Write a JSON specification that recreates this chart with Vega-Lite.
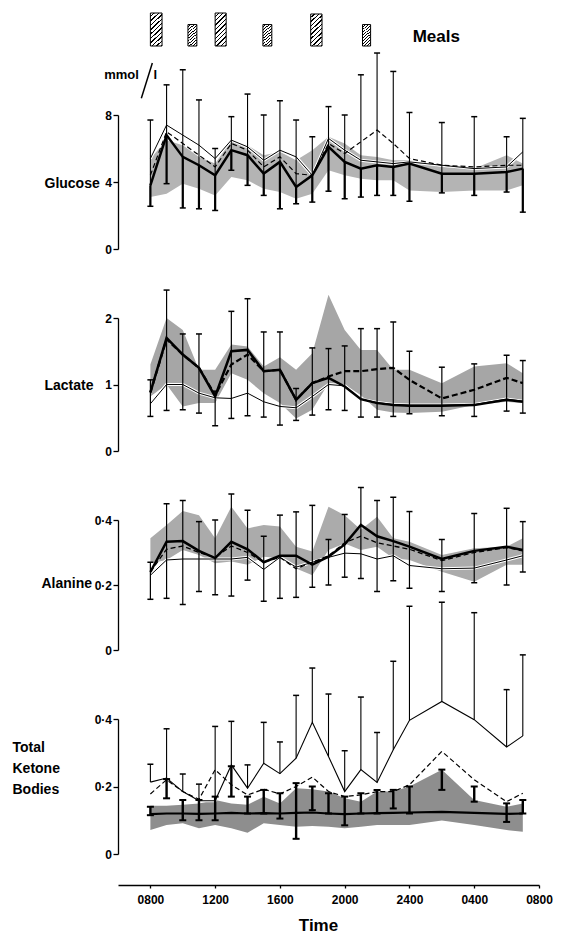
{
  "$schema": "https://vega.github.io/schema/vega-lite/v6.json",
  "padding": {"left": 12, "top": 12, "right": 5, "bottom": 5},
  "background": "white",
  "config": {
    "view": {"stroke": null},
    "axis": {"domainColor": "black", "domainWidth": 1.3, "tickColor": "black", "tickWidth": 1.3, "tickSize": 5, "grid": false,
      "labelFont": "Liberation Sans", "labelFontSize": 12, "labelFontWeight": "bold", "labelColor": "black",
      "titleFont": "Liberation Sans", "titleFontSize": 14, "titleFontWeight": "bold", "titleColor": "black"},
    "axisY": {"titleAngle": 0, "titleAlign": "left", "titleBaseline": "middle", "labelPadding": 1.5}
  },
  "datasets": {
    "meals": [
      {"t0": 8.0, "t1": 8.72, "h": 1.0},
      {"t0": 10.32, "t1": 10.87, "h": 0.65},
      {"t0": 12.0, "t1": 12.68, "h": 1.0},
      {"t0": 14.95, "t1": 15.5, "h": 0.65},
      {"t0": 17.9, "t1": 18.6, "h": 0.97},
      {"t0": 21.1, "t1": 21.6, "h": 0.65}
    ],
    "glucose": [
      {"t":8,"lo":3.1,"hi":5.4,"thin":5.4,"dash":4.4,"thick":3.8,"up":7.7,"dn":2.55},
      {"t":9,"lo":3.3,"hi":6.5,"thin":7.4,"dash":7.0,"thick":6.8,"up":9.8,"dn":3.9},
      {"t":10,"lo":3.9,"hi":6.2,"thin":6.8,"dash":6.3,"thick":5.5,"up":10.7,"dn":2.45},
      {"t":11,"lo":3.6,"hi":5.5,"thin":6.2,"dash":5.6,"thick":5.0,"up":8.9,"dn":2.4},
      {"t":12,"lo":3.2,"hi":5.1,"thin":5.4,"dash":4.9,"thick":4.4,"up":6.0,"dn":2.3},
      {"t":13,"lo":4.3,"hi":6.5,"thin":6.5,"dash":6.3,"thick":5.9,"up":7.9,"dn":4.7},
      {"t":14,"lo":4.1,"hi":6.2,"thin":6.1,"dash":5.9,"thick":5.6,"up":9.25,"dn":3.8},
      {"t":15,"lo":3.6,"hi":5.6,"thin":5.3,"dash":4.9,"thick":4.5,"up":8.0,"dn":3.2},
      {"t":16,"lo":3.4,"hi":5.8,"thin":5.9,"dash":5.5,"thick":5.2,"up":8.85,"dn":2.4},
      {"t":17,"lo":3.0,"hi":5.3,"thin":5.5,"dash":4.5,"thick":3.7,"up":7.7,"dn":2.7},
      {"t":18,"lo":3.3,"hi":5.9,"thin":4.4,"dash":4.4,"thick":4.4,"up":6.7,"dn":2.8},
      {"t":19,"lo":4.7,"hi":6.7,"thin":6.6,"dash":6.3,"thick":6.1,"up":8.5,"dn":3.45},
      {"t":20,"lo":4.4,"hi":6.3,"thin":5.9,"dash":5.7,"thick":5.2,"up":8.0,"dn":3.0},
      {"t":21,"lo":4.2,"hi":5.6,"thin":5.3,"dash":6.4,"thick":4.8,"up":10.4,"dn":3.1},
      {"t":22,"lo":4.1,"hi":5.5,"thin":5.2,"dash":7.1,"thick":5.0,"up":11.7,"dn":3.2},
      {"t":23,"lo":4.1,"hi":5.3,"thin":5.1,"dash":6.3,"thick":4.9,"up":10.6,"dn":3.2},
      {"t":24,"lo":3.5,"hi":5.3,"thin":5.2,"dash":5.4,"thick":5.1,"up":8.15,"dn":2.85},
      {"t":26,"lo":3.4,"hi":4.9,"thin":5.0,"dash":5.0,"thick":4.5,"up":7.55,"dn":3.35},
      {"t":28,"lo":3.5,"hi":4.8,"thin":4.8,"dash":4.9,"thick":4.5,"up":7.9,"dn":3.2},
      {"t":30,"lo":3.5,"hi":5.6,"thin":4.9,"dash":5.0,"thick":4.6,"up":6.7,"dn":3.4},
      {"t":31,"lo":3.8,"hi":5.1,"thin":5.8,"dash":5.0,"thick":4.8,"up":7.8,"dn":2.2}
    ],
    "lactate": [
      {"t":8,"lo":0.82,"hi":1.3,"thin":0.71,"dash":0.88,"thick":0.88,"up":1.07,"dn":0.52},
      {"t":9,"lo":1.0,"hi":2.0,"thin":1.0,"dash":1.68,"thick":1.7,"up":2.42,"dn":0.61},
      {"t":10,"lo":0.67,"hi":1.82,"thin":1.0,"dash":1.45,"thick":1.45,"up":1.76,"dn":0.62},
      {"t":11,"lo":0.72,"hi":1.22,"thin":0.87,"dash":1.25,"thick":1.25,"up":1.76,"dn":0.57},
      {"t":12,"lo":0.72,"hi":1.22,"thin":0.8,"dash":0.84,"thick":0.82,"up":0.9,"dn":0.38},
      {"t":13,"lo":1.17,"hi":1.6,"thin":0.79,"dash":1.3,"thick":1.5,"up":2.1,"dn":0.49},
      {"t":14,"lo":1.07,"hi":1.57,"thin":0.87,"dash":1.45,"thick":1.52,"up":2.29,"dn":0.53},
      {"t":15,"lo":0.87,"hi":1.27,"thin":0.74,"dash":1.2,"thick":1.2,"up":1.79,"dn":0.51},
      {"t":16,"lo":0.72,"hi":1.41,"thin":0.67,"dash":1.22,"thick":1.22,"up":1.79,"dn":0.39},
      {"t":17,"lo":0.49,"hi":1.22,"thin":0.65,"dash":0.77,"thick":0.77,"up":0.94,"dn":0.46},
      {"t":18,"lo":0.62,"hi":1.47,"thin":0.82,"dash":1.02,"thick":1.02,"up":1.55,"dn":0.54},
      {"t":19,"lo":1.02,"hi":2.35,"thin":1.0,"dash":1.12,"thick":1.1,"up":1.54,"dn":0.62},
      {"t":20,"lo":1.0,"hi":1.82,"thin":0.98,"dash":1.2,"thick":0.97,"up":1.58,"dn":0.61},
      {"t":21,"lo":0.84,"hi":1.52,"thin":0.78,"dash":1.2,"thick":0.78,"up":1.84,"dn":0.51},
      {"t":22,"lo":0.62,"hi":1.52,"thin":0.73,"dash":1.23,"thick":0.72,"up":1.84,"dn":0.51},
      {"t":23,"lo":0.58,"hi":1.22,"thin":0.7,"dash":1.25,"thick":0.69,"up":1.94,"dn":0.52},
      {"t":24,"lo":0.57,"hi":1.22,"thin":0.69,"dash":1.07,"thick":0.68,"up":1.5,"dn":0.56},
      {"t":26,"lo":0.59,"hi":1.02,"thin":0.69,"dash":0.79,"thick":0.68,"up":1.26,"dn":0.53},
      {"t":28,"lo":0.69,"hi":1.27,"thin":0.7,"dash":0.92,"thick":0.69,"up":1.31,"dn":0.52},
      {"t":30,"lo":0.74,"hi":1.32,"thin":0.78,"dash":1.1,"thick":0.77,"up":1.44,"dn":0.6},
      {"t":31,"lo":0.72,"hi":1.17,"thin":0.75,"dash":1.02,"thick":0.74,"up":1.36,"dn":0.57}
    ],
    "alanine": [
      {"t":8,"lo":0.267,"hi":0.344,"thin":0.23,"dash":0.24,"thick":0.24,"up":0.27,"dn":0.156},
      {"t":9,"lo":0.277,"hi":0.385,"thin":0.277,"dash":0.31,"thick":0.333,"up":0.45,"dn":0.159},
      {"t":10,"lo":0.308,"hi":0.428,"thin":0.28,"dash":0.32,"thick":0.335,"up":0.46,"dn":0.14},
      {"t":11,"lo":0.292,"hi":0.415,"thin":0.28,"dash":0.3,"thick":0.305,"up":0.395,"dn":0.18},
      {"t":12,"lo":0.267,"hi":0.344,"thin":0.28,"dash":0.285,"thick":0.283,"up":0.4,"dn":0.17},
      {"t":13,"lo":0.272,"hi":0.441,"thin":0.28,"dash":0.32,"thick":0.333,"up":0.48,"dn":0.166},
      {"t":14,"lo":0.262,"hi":0.374,"thin":0.285,"dash":0.3,"thick":0.31,"up":0.43,"dn":0.215},
      {"t":15,"lo":0.287,"hi":0.385,"thin":0.248,"dash":0.27,"thick":0.27,"up":0.35,"dn":0.15},
      {"t":16,"lo":0.282,"hi":0.38,"thin":0.285,"dash":0.285,"thick":0.29,"up":0.415,"dn":0.159},
      {"t":17,"lo":0.251,"hi":0.318,"thin":0.255,"dash":0.25,"thick":0.29,"up":0.425,"dn":0.162},
      {"t":18,"lo":0.23,"hi":0.303,"thin":0.27,"dash":0.27,"thick":0.263,"up":0.445,"dn":0.193},
      {"t":19,"lo":0.308,"hi":0.441,"thin":0.285,"dash":0.29,"thick":0.287,"up":0.34,"dn":0.2},
      {"t":20,"lo":0.328,"hi":0.415,"thin":0.298,"dash":0.33,"thick":0.325,"up":0.417,"dn":0.224},
      {"t":21,"lo":0.308,"hi":0.37,"thin":0.296,"dash":0.35,"thick":0.385,"up":0.5,"dn":0.22},
      {"t":22,"lo":0.318,"hi":0.41,"thin":0.28,"dash":0.33,"thick":0.35,"up":0.46,"dn":0.18},
      {"t":23,"lo":0.282,"hi":0.344,"thin":0.29,"dash":0.32,"thick":0.335,"up":0.47,"dn":0.213},
      {"t":24,"lo":0.277,"hi":0.333,"thin":0.26,"dash":0.31,"thick":0.318,"up":0.426,"dn":0.19},
      {"t":26,"lo":0.241,"hi":0.292,"thin":0.25,"dash":0.275,"thick":0.28,"up":0.34,"dn":0.18},
      {"t":28,"lo":0.21,"hi":0.313,"thin":0.252,"dash":0.3,"thick":0.305,"up":0.42,"dn":0.207},
      {"t":30,"lo":0.262,"hi":0.318,"thin":0.277,"dash":0.315,"thick":0.318,"up":0.436,"dn":0.2},
      {"t":31,"lo":0.262,"hi":0.344,"thin":0.29,"dash":0.305,"thick":0.308,"up":0.395,"dn":0.24}
    ],
    "ketones": [
      {"t":8,"lo":0.071,"hi":0.143,"thin":0.213,"dash":0.178,"thick":0.118,"up":0.266,"kLo":0.115,"kHi":0.14},
      {"t":9,"lo":0.086,"hi":0.143,"thin":0.225,"dash":0.22,"thick":0.12,"up":0.371,"kLo":0.165,"kHi":0.222},
      {"t":10,"lo":0.091,"hi":0.146,"thin":0.185,"dash":0.185,"thick":0.12,"up":0.237,"kLo":0.1,"kHi":0.16},
      {"t":11,"lo":0.076,"hi":0.15,"thin":0.158,"dash":0.162,"thick":0.119,"up":0.207,"kLo":0.1,"kHi":0.16},
      {"t":12,"lo":0.086,"hi":0.16,"thin":0.158,"dash":0.25,"thick":0.12,"up":0.378,"kLo":0.1,"kHi":0.17},
      {"t":13,"lo":0.076,"hi":0.15,"thin":0.264,"dash":0.205,"thick":0.122,"up":0.393,"kLo":0.17,"kHi":0.26},
      {"t":14,"lo":0.063,"hi":0.146,"thin":0.195,"dash":0.175,"thick":0.12,"up":0.264,"kLo":0.12,"kHi":0.17},
      {"t":15,"lo":0.091,"hi":0.17,"thin":0.269,"dash":0.192,"thick":0.121,"up":0.39,"kLo":0.12,"kHi":0.19},
      {"t":16,"lo":0.086,"hi":0.15,"thin":0.238,"dash":0.178,"thick":0.12,"up":0.332,"kLo":0.105,"kHi":0.18},
      {"t":17,"lo":0.081,"hi":0.195,"thin":0.284,"dash":0.2,"thick":0.122,"up":0.47,"kLo":0.045,"kHi":0.21},
      {"t":18,"lo":0.083,"hi":0.192,"thin":0.39,"dash":0.228,"thick":0.123,"up":0.551,"kLo":0.13,"kHi":0.2},
      {"t":19,"lo":0.081,"hi":0.185,"thin":0.289,"dash":0.185,"thick":0.12,"up":0.474,"kLo":0.12,"kHi":0.18},
      {"t":20,"lo":0.076,"hi":0.165,"thin":0.185,"dash":0.17,"thick":0.118,"up":0.306,"kLo":0.085,"kHi":0.17},
      {"t":21,"lo":0.081,"hi":0.155,"thin":0.25,"dash":0.175,"thick":0.12,"up":0.465,"kLo":0.12,"kHi":0.18},
      {"t":22,"lo":0.086,"hi":0.185,"thin":0.212,"dash":0.185,"thick":0.121,"up":0.36,"kLo":0.12,"kHi":0.19},
      {"t":23,"lo":0.086,"hi":0.185,"thin":0.309,"dash":0.185,"thick":0.122,"up":0.571,"kLo":0.135,"kHi":0.19},
      {"t":24,"lo":0.086,"hi":0.2,"thin":0.396,"dash":0.205,"thick":0.123,"up":0.734,"kLo":0.12,"kHi":0.2},
      {"t":26,"lo":0.099,"hi":0.25,"thin":0.452,"dash":0.304,"thick":0.125,"up":0.746,"kLo":0.19,"kHi":0.25},
      {"t":28,"lo":0.086,"hi":0.16,"thin":0.398,"dash":0.22,"thick":0.122,"up":0.715,"kLo":0.155,"kHi":0.2},
      {"t":30,"lo":0.071,"hi":0.14,"thin":0.317,"dash":0.155,"thick":0.119,"up":0.487,"kLo":0.095,"kHi":0.15},
      {"t":31,"lo":0.066,"hi":0.15,"thin":0.35,"dash":0.18,"thick":0.12,"up":0.59,"kLo":0.12,"kHi":0.16}
    ]
  },
  "vconcat": [
    {
      "width": 421, "height": 33,
      "layer": [
        {
          "data": {"name": "meals"},
          "mark": {"type": "rect", "stroke": "black", "strokeWidth": 1,
            "fill": {"gradient": "linear", "x1": 0, "y1": 0, "x2": 0.4, "y2": 1.2, "stops": [
              {"offset": 0, "color": "white"}, {"offset": 0.066, "color": "white"}, {"offset": 0.067, "color": "black"}, {"offset": 0.099, "color": "black"},
              {"offset": 0.1, "color": "white"}, {"offset": 0.166, "color": "white"}, {"offset": 0.167, "color": "black"}, {"offset": 0.199, "color": "black"},
              {"offset": 0.2, "color": "white"}, {"offset": 0.266, "color": "white"}, {"offset": 0.267, "color": "black"}, {"offset": 0.299, "color": "black"},
              {"offset": 0.3, "color": "white"}, {"offset": 0.366, "color": "white"}, {"offset": 0.367, "color": "black"}, {"offset": 0.399, "color": "black"},
              {"offset": 0.4, "color": "white"}, {"offset": 0.466, "color": "white"}, {"offset": 0.467, "color": "black"}, {"offset": 0.499, "color": "black"},
              {"offset": 0.5, "color": "white"}, {"offset": 0.566, "color": "white"}, {"offset": 0.567, "color": "black"}, {"offset": 0.599, "color": "black"},
              {"offset": 0.6, "color": "white"}, {"offset": 0.666, "color": "white"}, {"offset": 0.667, "color": "black"}, {"offset": 0.699, "color": "black"},
              {"offset": 0.7, "color": "white"}, {"offset": 0.766, "color": "white"}, {"offset": 0.767, "color": "black"}, {"offset": 0.799, "color": "black"},
              {"offset": 0.8, "color": "white"}, {"offset": 0.866, "color": "white"}, {"offset": 0.867, "color": "black"}, {"offset": 0.899, "color": "black"},
              {"offset": 0.9, "color": "white"}, {"offset": 0.966, "color": "white"}, {"offset": 0.967, "color": "black"}, {"offset": 1, "color": "black"}
            ]}},
          "encoding": {
            "x": {"field": "t0", "type": "quantitative", "scale": {"domain": [6, 32], "nice": false, "zero": false}, "axis": null},
            "x2": {"field": "t1"},
            "y": {"field": "h", "type": "quantitative", "scale": {"domain": [0, 1], "nice": false}, "axis": null},
            "y2": {"datum": 0}
          }
        },
        {
          "data": {"values": [{"label": "Meals", "t": 24.2, "v": 0.27}]},
          "mark": {"type": "text", "align": "left", "baseline": "middle", "font": "Liberation Sans", "fontSize": 17, "fontWeight": "bold", "color": "black"},
          "encoding": {
            "x": {"field": "t", "type": "quantitative", "scale": {"domain": [6, 32], "nice": false, "zero": false}, "axis": null},
            "y": {"field": "v", "type": "quantitative", "scale": {"domain": [0, 1], "nice": false}, "axis": null},
            "text": {"field": "label"}
          }
        }
      ]
    },
    {
      "width": 421, "height": 134,
      "data": {"name": "glucose"},
      "layer": [
        {"mark": {"type": "area", "color": "#b4b4b4"},
         "encoding": {
           "x": {"field": "t", "type": "quantitative", "scale": {"domain": [6, 32], "nice": false, "zero": false}, "axis": null},
           "y": {"field": "lo", "type": "quantitative", "scale": {"domain": [0, 8], "nice": false, "zero": false},
                 "axis": {"values": [0, 4, 8], "format": ".0f", "title": "Glucose", "titleX": -74, "titleY": 68}},
           "y2": {"field": "hi"}}},
        {"mark": {"type": "line", "color": "white", "strokeWidth": 3},
         "encoding": {"x": {"field": "t", "type": "quantitative", "scale": {"domain": [6, 32], "nice": false, "zero": false}, "axis": null},
           "y": {"field": "thin", "type": "quantitative", "scale": {"domain": [0, 8], "nice": false, "zero": false}}}},
        {"mark": {"type": "line", "color": "black", "strokeWidth": 1},
         "encoding": {"x": {"field": "t", "type": "quantitative", "scale": {"domain": [6, 32], "nice": false, "zero": false}, "axis": null},
           "y": {"field": "thin", "type": "quantitative", "scale": {"domain": [0, 8], "nice": false, "zero": false}}}},
        {"mark": {"type": "line", "color": "black", "strokeWidth": 1.2, "strokeDash": [5, 3]},
         "encoding": {"x": {"field": "t", "type": "quantitative", "scale": {"domain": [6, 32], "nice": false, "zero": false}, "axis": null},
           "y": {"field": "dash", "type": "quantitative", "scale": {"domain": [0, 8], "nice": false, "zero": false}}}},
        {"mark": {"type": "line", "color": "black", "strokeWidth": 2.5},
         "encoding": {"x": {"field": "t", "type": "quantitative", "scale": {"domain": [6, 32], "nice": false, "zero": false}, "axis": null},
           "y": {"field": "thick", "type": "quantitative", "scale": {"domain": [0, 8], "nice": false, "zero": false}}}},
        {"mark": {"type": "rule", "color": "black", "strokeWidth": 1.1},
         "encoding": {"x": {"field": "t", "type": "quantitative", "scale": {"domain": [6, 32], "nice": false, "zero": false}, "axis": null},
           "y": {"field": "dn", "type": "quantitative", "scale": {"domain": [0, 8], "nice": false, "zero": false}},
           "y2": {"field": "up"}}},
        {"mark": {"type": "rule", "color": "black", "strokeWidth": 2.2},
         "encoding": {"x": {"field": "t", "type": "quantitative", "scale": {"domain": [6, 32], "nice": false, "zero": false}, "axis": null},
           "y": {"field": "dn", "type": "quantitative", "scale": {"domain": [0, 8], "nice": false, "zero": false}},
           "y2": {"field": "thick"}}},
        {"mark": {"type": "tick", "orient": "horizontal", "size": 6, "thickness": 1.5, "color": "black", "opacity": 1},
         "encoding": {"x": {"field": "t", "type": "quantitative", "scale": {"domain": [6, 32], "nice": false, "zero": false}, "axis": null},
           "y": {"field": "up", "type": "quantitative", "scale": {"domain": [0, 8], "nice": false, "zero": false}}}},
        {"mark": {"type": "tick", "orient": "horizontal", "size": 6, "thickness": 1.5, "color": "black", "opacity": 1},
         "encoding": {"x": {"field": "t", "type": "quantitative", "scale": {"domain": [6, 32], "nice": false, "zero": false}, "axis": null},
           "y": {"field": "dn", "type": "quantitative", "scale": {"domain": [0, 8], "nice": false, "zero": false}}}},
        {"data": {"values": [{"label": "mmol", "t": 5.15, "v": 10.15}, {"label": "l", "t": 8.2, "v": 10.15}]},
         "mark": {"type": "text", "align": "left", "baseline": "alphabetic", "font": "Liberation Sans", "fontSize": 13, "fontWeight": "bold", "color": "black"},
         "encoding": {"x": {"field": "t", "type": "quantitative", "scale": {"domain": [6, 32], "nice": false, "zero": false}, "axis": null},
           "y": {"field": "v", "type": "quantitative", "scale": {"domain": [0, 8], "nice": false, "zero": false}},
           "text": {"field": "label"}}},
        {"data": {"values": [{"t0": 7.44, "t1": 8.12, "v0": 9.0, "v1": 11.1}]},
         "mark": {"type": "rule", "color": "black", "strokeWidth": 1.5},
         "encoding": {"x": {"field": "t0", "type": "quantitative", "scale": {"domain": [6, 32], "nice": false, "zero": false}, "axis": null},
           "x2": {"field": "t1"},
           "y": {"field": "v0", "type": "quantitative", "scale": {"domain": [0, 8], "nice": false, "zero": false}},
           "y2": {"field": "v1"}}}
      ]
    },
    {
      "width": 421, "height": 133,
      "data": {"name": "lactate"},
      "layer": [
        {"mark": {"type": "area", "color": "#a6a6a6"},
         "encoding": {
           "x": {"field": "t", "type": "quantitative", "scale": {"domain": [6, 32], "nice": false, "zero": false}, "axis": null},
           "y": {"field": "lo", "type": "quantitative", "scale": {"domain": [0, 2], "nice": false, "zero": false},
                 "axis": {"values": [0, 1, 2], "format": ".0f", "title": "Lactate", "titleX": -74, "titleY": 67}},
           "y2": {"field": "hi"}}},
        {"mark": {"type": "line", "color": "white", "strokeWidth": 3},
         "encoding": {"x": {"field": "t", "type": "quantitative", "scale": {"domain": [6, 32], "nice": false, "zero": false}, "axis": null},
           "y": {"field": "thin", "type": "quantitative", "scale": {"domain": [0, 2], "nice": false, "zero": false}}}},
        {"mark": {"type": "line", "color": "black", "strokeWidth": 1},
         "encoding": {"x": {"field": "t", "type": "quantitative", "scale": {"domain": [6, 32], "nice": false, "zero": false}, "axis": null},
           "y": {"field": "thin", "type": "quantitative", "scale": {"domain": [0, 2], "nice": false, "zero": false}}}},
        {"mark": {"type": "line", "color": "black", "strokeWidth": 2.2, "strokeDash": [6, 3]},
         "encoding": {"x": {"field": "t", "type": "quantitative", "scale": {"domain": [6, 32], "nice": false, "zero": false}, "axis": null},
           "y": {"field": "dash", "type": "quantitative", "scale": {"domain": [0, 2], "nice": false, "zero": false}}}},
        {"mark": {"type": "line", "color": "black", "strokeWidth": 2.5},
         "encoding": {"x": {"field": "t", "type": "quantitative", "scale": {"domain": [6, 32], "nice": false, "zero": false}, "axis": null},
           "y": {"field": "thick", "type": "quantitative", "scale": {"domain": [0, 2], "nice": false, "zero": false}}}},
        {"mark": {"type": "rule", "color": "black", "strokeWidth": 1.2},
         "encoding": {"x": {"field": "t", "type": "quantitative", "scale": {"domain": [6, 32], "nice": false, "zero": false}, "axis": null},
           "y": {"field": "dn", "type": "quantitative", "scale": {"domain": [0, 2], "nice": false, "zero": false}},
           "y2": {"field": "up"}}},
        {"mark": {"type": "tick", "orient": "horizontal", "size": 6, "thickness": 1.5, "color": "black", "opacity": 1},
         "encoding": {"x": {"field": "t", "type": "quantitative", "scale": {"domain": [6, 32], "nice": false, "zero": false}, "axis": null},
           "y": {"field": "up", "type": "quantitative", "scale": {"domain": [0, 2], "nice": false, "zero": false}}}},
        {"mark": {"type": "tick", "orient": "horizontal", "size": 6, "thickness": 1.5, "color": "black", "opacity": 1},
         "encoding": {"x": {"field": "t", "type": "quantitative", "scale": {"domain": [6, 32], "nice": false, "zero": false}, "axis": null},
           "y": {"field": "dn", "type": "quantitative", "scale": {"domain": [0, 2], "nice": false, "zero": false}}}}
      ]
    },
    {
      "width": 421, "height": 130,
      "data": {"name": "alanine"},
      "layer": [
        {"mark": {"type": "area", "color": "#ababab"},
         "encoding": {
           "x": {"field": "t", "type": "quantitative", "scale": {"domain": [6, 32], "nice": false, "zero": false}, "axis": null},
           "y": {"field": "lo", "type": "quantitative", "scale": {"domain": [0, 0.4], "nice": false, "zero": false},
                 "axis": {"values": [0, 0.2, 0.4], "labelExpr": "datum.value == 0 ? '0' : replace(format(datum.value, '.1f'), '.', '·')", "title": "Alanine", "titleX": -77, "titleY": 63}},
           "y2": {"field": "hi"}}},
        {"mark": {"type": "line", "color": "white", "strokeWidth": 3},
         "encoding": {"x": {"field": "t", "type": "quantitative", "scale": {"domain": [6, 32], "nice": false, "zero": false}, "axis": null},
           "y": {"field": "thin", "type": "quantitative", "scale": {"domain": [0, 0.4], "nice": false, "zero": false}}}},
        {"mark": {"type": "line", "color": "black", "strokeWidth": 1},
         "encoding": {"x": {"field": "t", "type": "quantitative", "scale": {"domain": [6, 32], "nice": false, "zero": false}, "axis": null},
           "y": {"field": "thin", "type": "quantitative", "scale": {"domain": [0, 0.4], "nice": false, "zero": false}}}},
        {"mark": {"type": "line", "color": "black", "strokeWidth": 1.3, "strokeDash": [5, 3]},
         "encoding": {"x": {"field": "t", "type": "quantitative", "scale": {"domain": [6, 32], "nice": false, "zero": false}, "axis": null},
           "y": {"field": "dash", "type": "quantitative", "scale": {"domain": [0, 0.4], "nice": false, "zero": false}}}},
        {"mark": {"type": "line", "color": "black", "strokeWidth": 2.5},
         "encoding": {"x": {"field": "t", "type": "quantitative", "scale": {"domain": [6, 32], "nice": false, "zero": false}, "axis": null},
           "y": {"field": "thick", "type": "quantitative", "scale": {"domain": [0, 0.4], "nice": false, "zero": false}}}},
        {"mark": {"type": "rule", "color": "black", "strokeWidth": 1.2},
         "encoding": {"x": {"field": "t", "type": "quantitative", "scale": {"domain": [6, 32], "nice": false, "zero": false}, "axis": null},
           "y": {"field": "dn", "type": "quantitative", "scale": {"domain": [0, 0.4], "nice": false, "zero": false}},
           "y2": {"field": "up"}}},
        {"mark": {"type": "tick", "orient": "horizontal", "size": 6, "thickness": 1.5, "color": "black", "opacity": 1},
         "encoding": {"x": {"field": "t", "type": "quantitative", "scale": {"domain": [6, 32], "nice": false, "zero": false}, "axis": null},
           "y": {"field": "up", "type": "quantitative", "scale": {"domain": [0, 0.4], "nice": false, "zero": false}}}},
        {"mark": {"type": "tick", "orient": "horizontal", "size": 6, "thickness": 1.5, "color": "black", "opacity": 1},
         "encoding": {"x": {"field": "t", "type": "quantitative", "scale": {"domain": [6, 32], "nice": false, "zero": false}, "axis": null},
           "y": {"field": "dn", "type": "quantitative", "scale": {"domain": [0, 0.4], "nice": false, "zero": false}}}}
      ]
    },
    {
      "width": 421, "height": 135,
      "data": {"name": "ketones"},
      "layer": [
        {"mark": {"type": "area", "color": "#8e8e8e"},
         "encoding": {
           "x": {"field": "t", "type": "quantitative", "scale": {"domain": [6, 32], "nice": false, "zero": false},
                 "axis": {"values": [8, 12, 16, 20, 24, 28, 32], "labelExpr": "datum.value == 24 ? '2400' : ((datum.value % 24) < 10 ? '0' : '') + (datum.value % 24) + '00'",
                          "offset": 31, "tickSize": 3, "labelPadding": 6, "labelFontSize": 12, "labelDx": 3, "labelFlush": false,
                          "title": "Time", "titleFontSize": 17, "titlePadding": 12, "titleX": 200}},
           "y": {"field": "lo", "type": "quantitative", "scale": {"domain": [0, 0.4], "nice": false, "zero": false},
                 "axis": {"values": [0, 0.2, 0.4], "labelExpr": "datum.value == 0 ? '0' : replace(format(datum.value, '.1f'), '.', '·')",
                          "title": ["Total", "Ketone", "Bodies"], "titleX": -106, "titleY": 21, "titleBaseline": "top", "titleLineHeight": 21}},
           "y2": {"field": "hi"}}},
        {"mark": {"type": "line", "color": "white", "strokeWidth": 3},
         "encoding": {"x": {"field": "t", "type": "quantitative", "scale": {"domain": [6, 32], "nice": false, "zero": false}},
           "y": {"field": "thin", "type": "quantitative", "scale": {"domain": [0, 0.4], "nice": false, "zero": false}}}},
        {"mark": {"type": "line", "color": "black", "strokeWidth": 1.1},
         "encoding": {"x": {"field": "t", "type": "quantitative", "scale": {"domain": [6, 32], "nice": false, "zero": false}},
           "y": {"field": "thin", "type": "quantitative", "scale": {"domain": [0, 0.4], "nice": false, "zero": false}}}},
        {"mark": {"type": "line", "color": "black", "strokeWidth": 1.2, "strokeDash": [5, 3]},
         "encoding": {"x": {"field": "t", "type": "quantitative", "scale": {"domain": [6, 32], "nice": false, "zero": false}},
           "y": {"field": "dash", "type": "quantitative", "scale": {"domain": [0, 0.4], "nice": false, "zero": false}}}},
        {"mark": {"type": "line", "color": "black", "strokeWidth": 2.2},
         "encoding": {"x": {"field": "t", "type": "quantitative", "scale": {"domain": [6, 32], "nice": false, "zero": false}},
           "y": {"field": "thick", "type": "quantitative", "scale": {"domain": [0, 0.4], "nice": false, "zero": false}}}},
        {"mark": {"type": "rule", "color": "black", "strokeWidth": 1.1},
         "encoding": {"x": {"field": "t", "type": "quantitative", "scale": {"domain": [6, 32], "nice": false, "zero": false}},
           "y": {"field": "thin", "type": "quantitative", "scale": {"domain": [0, 0.4], "nice": false, "zero": false}},
           "y2": {"field": "up"}}},
        {"mark": {"type": "tick", "orient": "horizontal", "size": 6, "thickness": 1.5, "color": "black", "opacity": 1},
         "encoding": {"x": {"field": "t", "type": "quantitative", "scale": {"domain": [6, 32], "nice": false, "zero": false}},
           "y": {"field": "up", "type": "quantitative", "scale": {"domain": [0, 0.4], "nice": false, "zero": false}}}},
        {"mark": {"type": "rule", "color": "black", "strokeWidth": 2.4},
         "encoding": {"x": {"field": "t", "type": "quantitative", "scale": {"domain": [6, 32], "nice": false, "zero": false}},
           "y": {"field": "kLo", "type": "quantitative", "scale": {"domain": [0, 0.4], "nice": false, "zero": false}},
           "y2": {"field": "kHi"}}},
        {"mark": {"type": "tick", "orient": "horizontal", "size": 7, "thickness": 2, "color": "black", "opacity": 1},
         "encoding": {"x": {"field": "t", "type": "quantitative", "scale": {"domain": [6, 32], "nice": false, "zero": false}},
           "y": {"field": "kLo", "type": "quantitative", "scale": {"domain": [0, 0.4], "nice": false, "zero": false}}}},
        {"mark": {"type": "tick", "orient": "horizontal", "size": 7, "thickness": 2, "color": "black", "opacity": 1},
         "encoding": {"x": {"field": "t", "type": "quantitative", "scale": {"domain": [6, 32], "nice": false, "zero": false}},
           "y": {"field": "kHi", "type": "quantitative", "scale": {"domain": [0, 0.4], "nice": false, "zero": false}}}}
      ]
    }
  ],
  "spacing": 69,
  "bounds": "flush",
  "resolve": {"scale": {"x": "independent", "y": "independent"}}
}
